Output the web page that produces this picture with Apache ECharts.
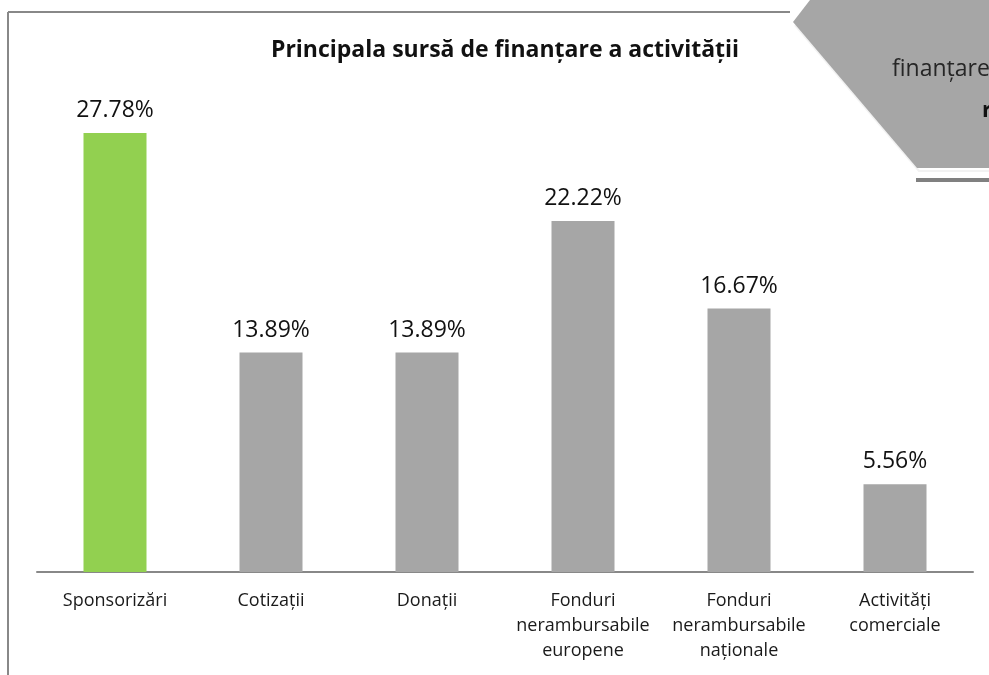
<!DOCTYPE html>
<html>
<head>
<meta charset="utf-8">
<script src="https://cdn.jsdelivr.net/npm/echarts@6/dist/echarts.min.js"></script>
<style>
  html, body { margin: 0; padding: 0; background: #fff; }
  #chart { width: 989px; height: 675px; }
</style>
</head>
<body>
<div id="chart"></div>
<script>
// date
var categories = ['Sponsorizări', 'Cotizații', 'Donații', 'Fonduri\nnerambursabile\neuropene', 'Fonduri\nnerambursabile\nnaționale', 'Activități\ncomerciale'];
var values = [27.78, 13.89, 13.89, 22.22, 16.67, 5.56];
var barColors = ['#92d050', '#a6a6a6', '#a6a6a6', '#a6a6a6', '#a6a6a6', '#a6a6a6'];

var font = '"Open Sans", "Noto Sans", sans-serif';
var chart = echarts.init(document.getElementById('chart'));

chart.setOption({
  animation: false,
  backgroundColor: '#fff',
  grid: { left: 37, right: 16, top: 98, bottom: 103 },
  xAxis: {
    type: 'category',
    data: categories,
    axisLine: { lineStyle: { color: '#888', width: 2 } },
    axisTick: { show: false },
    axisLabel: {
      color: '#1a1a1a',
      fontFamily: font,
      fontSize: 18,
      lineHeight: 25,
      margin: 16,
      interval: 0
    }
  },
  yAxis: {
    type: 'value',
    min: 0,
    max: 30,
    show: false,
    splitLine: { show: false }
  },
  series: [{
    type: 'bar',
    barWidth: 63,
    data: values.map(function (v, i) {
      return { value: v, itemStyle: { color: barColors[i] } };
    }),
    label: {
      show: true,
      position: 'top',
      distance: 11,
      color: '#111',
      fontFamily: font,
      fontSize: 23,
      formatter: function (p) { return p.value.toFixed(2) + '%'; }
    }
  }],
  graphic: [
    // rama graficului
    { type: 'line', shape: { x1: 8, y1: 12, x2: 790, y2: 12 }, style: { stroke: '#888', lineWidth: 2 } },
    { type: 'line', shape: { x1: 8, y1: 12, x2: 8, y2: 675 }, style: { stroke: '#888', lineWidth: 2 } },
    // forma gri din colt
    { type: 'rect', shape: { x: 916, y: 178, width: 80, height: 4 }, style: { fill: '#808080' } },
    { type: 'polyline', shape: { points: [[795, 25], [919, 171], [989, 171]] }, style: { stroke: '#f2f2f2', lineWidth: 2, fill: null } },
    { type: 'polygon', shape: { points: [[810, 0], [989, 0], [989, 168], [917, 168], [793, 22]] }, style: { fill: '#a6a6a6' } },
    {
      type: 'text', x: 892, y: 58,
      style: { text: 'finanțare a', fontFamily: font, fontSize: 23, fill: '#262626' }
    },
    {
      type: 'text', x: 982, y: 100,
      style: { text: 'r', fontFamily: font, fontSize: 22, fontWeight: 'bold', fill: '#111' }
    },
    {
      type: 'text', x: 505, y: 39,
      style: {
        text: 'Principala sursă de finanțare a activității',
        fontFamily: font, fontSize: 23, fontWeight: 'bold', fill: '#111',
        align: 'center', verticalAlign: 'top'
      }
    }
  ]
});
</script>
</body>
</html>
